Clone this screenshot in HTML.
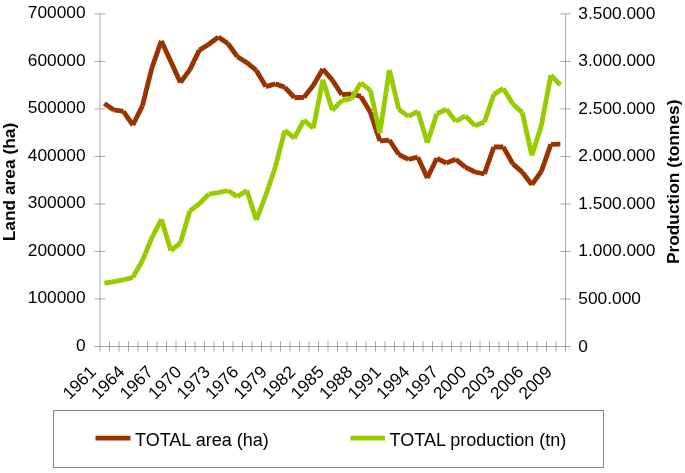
<!DOCTYPE html>
<html><head><meta charset="utf-8"><title>Land area and production</title>
<style>html,body{margin:0;padding:0;background:#fff}svg{display:block}text{font-family:"Liberation Sans",sans-serif;font-size:17.33px;fill:#000}.b{font-weight:bold}</style></head><body>
<svg width="685" height="473" viewBox="0 0 685 473">
<rect width="685" height="473" fill="#fff"/>
<g stroke="#868686" stroke-width="0.7" fill="none">
<line x1="100.00" y1="13.90" x2="100.00" y2="351.80"/>
<line x1="565.50" y1="13.90" x2="565.50" y2="351.80"/>
<line x1="94.30" y1="346.50" x2="570.90" y2="346.50"/>
<line x1="94.30" y1="298.99" x2="105.30" y2="298.99"/>
<line x1="560.10" y1="298.99" x2="570.90" y2="298.99"/>
<line x1="94.30" y1="251.47" x2="105.30" y2="251.47"/>
<line x1="560.10" y1="251.47" x2="570.90" y2="251.47"/>
<line x1="94.30" y1="203.96" x2="105.30" y2="203.96"/>
<line x1="560.10" y1="203.96" x2="570.90" y2="203.96"/>
<line x1="94.30" y1="156.44" x2="105.30" y2="156.44"/>
<line x1="560.10" y1="156.44" x2="570.90" y2="156.44"/>
<line x1="94.30" y1="108.93" x2="105.30" y2="108.93"/>
<line x1="560.10" y1="108.93" x2="570.90" y2="108.93"/>
<line x1="94.30" y1="61.41" x2="105.30" y2="61.41"/>
<line x1="560.10" y1="61.41" x2="570.90" y2="61.41"/>
<line x1="94.30" y1="13.90" x2="105.30" y2="13.90"/>
<line x1="560.10" y1="13.90" x2="570.90" y2="13.90"/>
<line x1="109.50" y1="341.00" x2="109.50" y2="351.80"/>
<line x1="119.00" y1="341.00" x2="119.00" y2="351.80"/>
<line x1="128.50" y1="341.00" x2="128.50" y2="351.80"/>
<line x1="138.00" y1="341.00" x2="138.00" y2="351.80"/>
<line x1="147.50" y1="341.00" x2="147.50" y2="351.80"/>
<line x1="157.00" y1="341.00" x2="157.00" y2="351.80"/>
<line x1="166.50" y1="341.00" x2="166.50" y2="351.80"/>
<line x1="176.00" y1="341.00" x2="176.00" y2="351.80"/>
<line x1="185.50" y1="341.00" x2="185.50" y2="351.80"/>
<line x1="195.00" y1="341.00" x2="195.00" y2="351.80"/>
<line x1="204.50" y1="341.00" x2="204.50" y2="351.80"/>
<line x1="214.00" y1="341.00" x2="214.00" y2="351.80"/>
<line x1="223.50" y1="341.00" x2="223.50" y2="351.80"/>
<line x1="233.00" y1="341.00" x2="233.00" y2="351.80"/>
<line x1="242.50" y1="341.00" x2="242.50" y2="351.80"/>
<line x1="252.00" y1="341.00" x2="252.00" y2="351.80"/>
<line x1="261.50" y1="341.00" x2="261.50" y2="351.80"/>
<line x1="271.00" y1="341.00" x2="271.00" y2="351.80"/>
<line x1="280.50" y1="341.00" x2="280.50" y2="351.80"/>
<line x1="290.00" y1="341.00" x2="290.00" y2="351.80"/>
<line x1="299.50" y1="341.00" x2="299.50" y2="351.80"/>
<line x1="309.00" y1="341.00" x2="309.00" y2="351.80"/>
<line x1="318.50" y1="341.00" x2="318.50" y2="351.80"/>
<line x1="328.00" y1="341.00" x2="328.00" y2="351.80"/>
<line x1="337.50" y1="341.00" x2="337.50" y2="351.80"/>
<line x1="347.00" y1="341.00" x2="347.00" y2="351.80"/>
<line x1="356.50" y1="341.00" x2="356.50" y2="351.80"/>
<line x1="366.00" y1="341.00" x2="366.00" y2="351.80"/>
<line x1="375.50" y1="341.00" x2="375.50" y2="351.80"/>
<line x1="385.00" y1="341.00" x2="385.00" y2="351.80"/>
<line x1="394.50" y1="341.00" x2="394.50" y2="351.80"/>
<line x1="404.00" y1="341.00" x2="404.00" y2="351.80"/>
<line x1="413.50" y1="341.00" x2="413.50" y2="351.80"/>
<line x1="423.00" y1="341.00" x2="423.00" y2="351.80"/>
<line x1="432.50" y1="341.00" x2="432.50" y2="351.80"/>
<line x1="442.00" y1="341.00" x2="442.00" y2="351.80"/>
<line x1="451.50" y1="341.00" x2="451.50" y2="351.80"/>
<line x1="461.00" y1="341.00" x2="461.00" y2="351.80"/>
<line x1="470.50" y1="341.00" x2="470.50" y2="351.80"/>
<line x1="480.00" y1="341.00" x2="480.00" y2="351.80"/>
<line x1="489.50" y1="341.00" x2="489.50" y2="351.80"/>
<line x1="499.00" y1="341.00" x2="499.00" y2="351.80"/>
<line x1="508.50" y1="341.00" x2="508.50" y2="351.80"/>
<line x1="518.00" y1="341.00" x2="518.00" y2="351.80"/>
<line x1="527.50" y1="341.00" x2="527.50" y2="351.80"/>
<line x1="537.00" y1="341.00" x2="537.00" y2="351.80"/>
<line x1="546.50" y1="341.00" x2="546.50" y2="351.80"/>
<line x1="556.00" y1="341.00" x2="556.00" y2="351.80"/>
</g>
<path d="M104.35 103.40L113.85 109.90M113.85 109.90L123.35 111.40M123.35 111.40L132.85 125.00M132.85 125.00L142.35 106.00M142.35 106.00L151.85 68.00M151.85 68.00L161.35 40.90M161.35 40.90L170.85 61.40M170.85 61.40L180.35 82.60M180.35 82.60L189.85 69.60M189.85 69.60L199.35 50.10M199.35 50.10L208.85 44.20M208.85 44.20L218.35 37.00M218.35 37.00L227.85 43.50M227.85 43.50L237.35 56.70M237.35 56.70L246.85 62.60M246.85 62.60L256.35 70.40M256.35 70.40L265.85 86.60M265.85 86.60L275.35 83.90M275.35 83.90L284.85 87.30M284.85 87.30L294.35 97.50M294.35 97.50L303.85 97.50M303.85 97.50L313.35 85.30M313.35 85.30L322.85 69.00M322.85 69.00L332.35 80.10M332.35 80.10L341.85 94.70M341.85 94.70L351.35 93.80M351.35 93.80L360.85 96.40M360.85 96.40L370.35 112.20M370.35 112.20L379.85 140.90M379.85 140.90L389.35 140.20M389.35 140.20L398.85 154.50M398.85 154.50L408.35 159.30M408.35 159.30L417.85 157.20M417.85 157.20L427.35 178.00M427.35 178.00L436.85 158.30M436.85 158.30L446.35 163.00M446.35 163.00L455.85 159.30M455.85 159.30L465.35 167.20M465.35 167.20L474.85 172.00M474.85 172.00L484.35 174.00M484.35 174.00L493.85 147.00M493.85 147.00L503.35 147.00M503.35 147.00L512.85 163.90M512.85 163.90L522.35 172.20M522.35 172.20L531.85 184.70M531.85 184.70L541.35 171.40M541.35 171.40L550.85 144.40M550.85 144.40L560.35 144.20" fill="none" stroke="#993300" stroke-width="4.85" stroke-linecap="butt"/>
<path d="M104.35 283.20L113.85 281.60M113.85 281.60L123.35 279.90M123.35 279.90L132.85 277.40M132.85 277.40L142.35 260.80M142.35 260.80L151.85 237.80M151.85 237.80L161.35 219.30M161.35 219.30L170.85 250.50M170.85 250.50L180.35 243.00M180.35 243.00L189.85 211.00M189.85 211.00L199.35 203.80M199.35 203.80L208.85 194.20M208.85 194.20L218.35 192.70M218.35 192.70L227.85 190.50M227.85 190.50L237.35 196.60M237.35 196.60L246.85 190.50M246.85 190.50L256.35 220.00M256.35 220.00L265.85 195.00M265.85 195.00L275.35 167.00M275.35 167.00L284.85 130.40M284.85 130.40L294.35 138.20M294.35 138.20L303.85 120.10M303.85 120.10L313.35 128.20M313.35 128.20L322.85 79.60M322.85 79.60L332.35 110.20M332.35 110.20L341.85 100.40M341.85 100.40L351.35 98.90M351.35 98.90L360.85 82.80M360.85 82.80L370.35 90.30M370.35 90.30L379.85 133.20M379.85 133.20L389.35 70.00M389.35 70.00L398.85 109.40M398.85 109.40L408.35 116.40M408.35 116.40L417.85 111.30M417.85 111.30L427.35 142.80M427.35 142.80L436.85 113.80M436.85 113.80L446.35 109.30M446.35 109.30L455.85 121.50M455.85 121.50L465.35 115.90M465.35 115.90L474.85 125.60M474.85 125.60L484.35 122.30M484.35 122.30L493.85 94.40M493.85 94.40L503.35 88.40M503.35 88.40L512.85 104.00M512.85 104.00L522.35 112.60M522.35 112.60L531.85 155.40M531.85 155.40L541.35 125.50M541.35 125.50L550.85 75.30M550.85 75.30L560.35 85.00" fill="none" stroke="#99CC00" stroke-width="4.85" stroke-linecap="butt"/>
<text x="85.60" y="350.90" text-anchor="end">0</text>
<text x="578.30" y="351.50">0</text>
<text x="85.60" y="303.39" text-anchor="end">100000</text>
<text x="578.30" y="303.99">500.000</text>
<text x="85.60" y="255.87" text-anchor="end">200000</text>
<text x="578.30" y="256.47">1.000.000</text>
<text x="85.60" y="208.36" text-anchor="end">300000</text>
<text x="578.30" y="208.96">1.500.000</text>
<text x="85.60" y="160.84" text-anchor="end">400000</text>
<text x="578.30" y="161.44">2.000.000</text>
<text x="85.60" y="113.33" text-anchor="end">500000</text>
<text x="578.30" y="113.93">2.500.000</text>
<text x="85.60" y="65.81" text-anchor="end">600000</text>
<text x="578.30" y="66.41">3.000.000</text>
<text x="85.60" y="18.30" text-anchor="end">700000</text>
<text x="578.30" y="18.90">3.500.000</text>
<text transform="translate(97.00,373.00) rotate(-45)" text-anchor="end">1961</text>
<text transform="translate(125.50,373.00) rotate(-45)" text-anchor="end">1964</text>
<text transform="translate(154.00,373.00) rotate(-45)" text-anchor="end">1967</text>
<text transform="translate(182.50,373.00) rotate(-45)" text-anchor="end">1970</text>
<text transform="translate(211.00,373.00) rotate(-45)" text-anchor="end">1973</text>
<text transform="translate(239.50,373.00) rotate(-45)" text-anchor="end">1976</text>
<text transform="translate(268.00,373.00) rotate(-45)" text-anchor="end">1979</text>
<text transform="translate(296.50,373.00) rotate(-45)" text-anchor="end">1982</text>
<text transform="translate(325.00,373.00) rotate(-45)" text-anchor="end">1985</text>
<text transform="translate(353.50,373.00) rotate(-45)" text-anchor="end">1988</text>
<text transform="translate(382.00,373.00) rotate(-45)" text-anchor="end">1991</text>
<text transform="translate(410.50,373.00) rotate(-45)" text-anchor="end">1994</text>
<text transform="translate(439.00,373.00) rotate(-45)" text-anchor="end">1997</text>
<text transform="translate(467.50,373.00) rotate(-45)" text-anchor="end">2000</text>
<text transform="translate(496.00,373.00) rotate(-45)" text-anchor="end">2003</text>
<text transform="translate(524.50,373.00) rotate(-45)" text-anchor="end">2006</text>
<text transform="translate(553.00,373.00) rotate(-45)" text-anchor="end">2009</text>
<text class="b" transform="translate(14.70,182.00) rotate(-90)" text-anchor="middle">Land area (ha)</text>
<text class="b" transform="translate(678.60,181.80) rotate(-90)" text-anchor="middle">Production (tonnes)</text>
<rect x="53.5" y="410.5" width="550" height="57" fill="#fff" stroke="#868686" stroke-width="1"/>
<line x1="95.5" y1="438.15" x2="130.5" y2="438.15" stroke="#993300" stroke-width="4.8"/>
<text x="135.00" y="446.00" style="font-size:18px">TOTAL area (ha)</text>
<line x1="350.4" y1="438.15" x2="385" y2="438.15" stroke="#99CC00" stroke-width="4.8"/>
<text x="389.60" y="446.00" style="font-size:18px">TOTAL production (tn)</text>
</svg></body></html>
